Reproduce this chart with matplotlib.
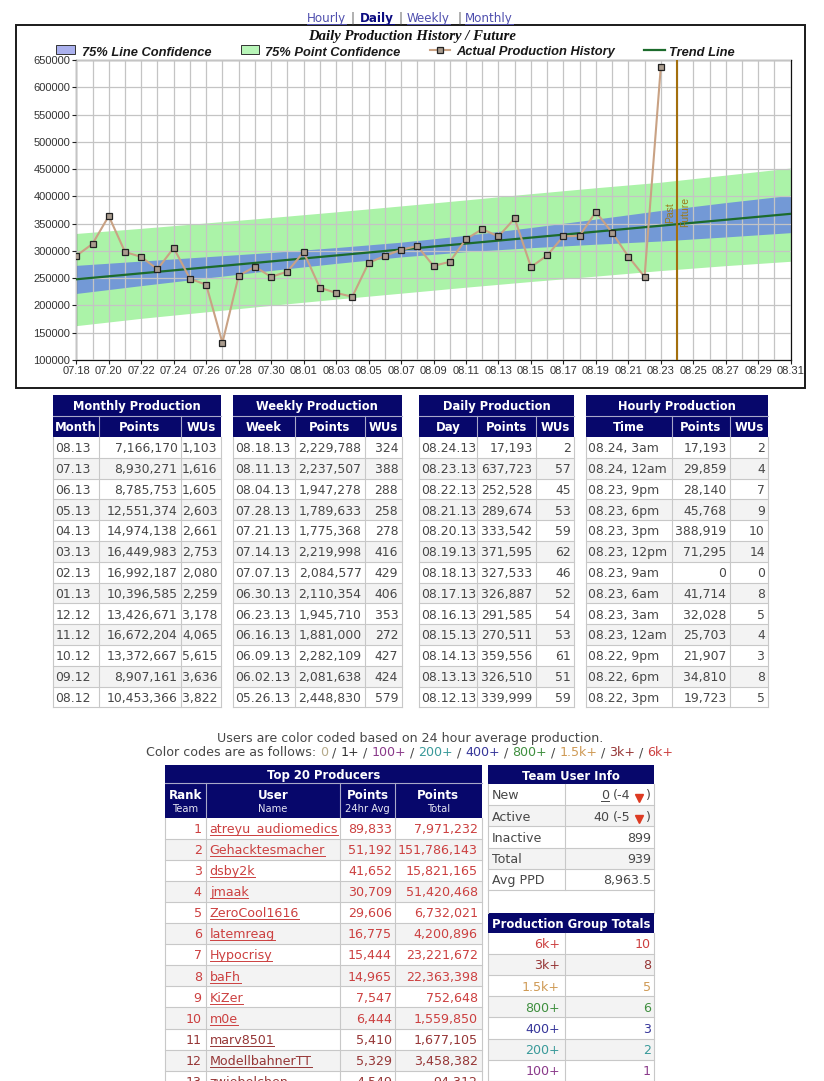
import matplotlib
matplotlib.use('Agg')
import matplotlib.pyplot as plt
import matplotlib.dates as mdates
from matplotlib.patches import Rectangle
from matplotlib.lines import Line2D
from matplotlib.transforms import offset_copy
import pandas as pd

# ---------------- chart data ----------------
prod_start = '2013-07-18'
production = [291000, 313000, 364000, 298000, 289000, 266500, 305500, 249000,
              238000, 131500, 254500, 271000, 252500, 262000,
              298000, 232500, 223000, 216000, 278000, 291000, 302000, 309000,
              272500, 280000, 321500,
              339999, 326510, 359556, 270511, 291585, 326887, 327533, 371595,
              333542, 289674, 252528, 637723]

trend_dates = ['2013-07-18', '2013-08-31']
trend_values = [248000, 368000]

band_dates = ['2013-07-18', '2013-07-22', '2013-07-26', '2013-07-30', '2013-08-03', '2013-08-07',
              '2013-08-11', '2013-08-15', '2013-08-19', '2013-08-23', '2013-08-27', '2013-08-31']
line_conf_hi = [273500, 281400, 289300, 297200, 306100, 316000, 328500, 342900, 358300, 374200, 388600, 402000]
line_conf_lo = [222000, 236400, 250300, 264200, 277100, 289000, 298500, 305900, 312300, 318200, 325600, 333500]
point_conf_hi = [332000, 341400, 351300, 361200, 371600, 382500, 393500, 404900, 415800, 426000, 439000, 452000]
point_conf_lo = [163000, 176400, 188300, 200200, 211600, 222500, 233500, 243900, 253800, 264000, 273000, 281000]

split_date = '2013-08-24'
x_range = ['2013-07-18', '2013-08-31']
y_ticks = [100000, 150000, 200000, 250000, 300000, 350000, 400000, 450000, 500000, 550000, 600000, 650000]

# ---------------- production tables ----------------
monthly_month = ['08.13', '07.13', '06.13', '05.13', '04.13', '03.13', '02.13', '01.13', '12.12', '11.12', '10.12', '09.12', '08.12']
monthly_points = ['7,166,170', '8,930,271', '8,785,753', '12,551,374', '14,974,138', '16,449,983', '16,992,187',
                  '10,396,585', '13,426,671', '16,672,204', '13,372,667', '8,907,161', '10,453,366']
monthly_wus = ['1,103', '1,616', '1,605', '2,603', '2,661', '2,753', '2,080', '2,259', '3,178', '4,065', '5,615', '3,636', '3,822']

weekly_week = ['08.18.13', '08.11.13', '08.04.13', '07.28.13', '07.21.13', '07.14.13', '07.07.13', '06.30.13',
               '06.23.13', '06.16.13', '06.09.13', '06.02.13', '05.26.13']
weekly_points = ['2,229,788', '2,237,507', '1,947,278', '1,789,633', '1,775,368', '2,219,998', '2,084,577',
                 '2,110,354', '1,945,710', '1,881,000', '2,282,109', '2,081,638', '2,448,830']
weekly_wus = ['324', '388', '288', '258', '278', '416', '429', '406', '353', '272', '427', '424', '579']

daily_day = ['08.24.13', '08.23.13', '08.22.13', '08.21.13', '08.20.13', '08.19.13', '08.18.13', '08.17.13',
             '08.16.13', '08.15.13', '08.14.13', '08.13.13', '08.12.13']
daily_points = ['17,193', '637,723', '252,528', '289,674', '333,542', '371,595', '327,533', '326,887',
                '291,585', '270,511', '359,556', '326,510', '339,999']
daily_wus = ['2', '57', '45', '53', '59', '62', '46', '52', '54', '53', '61', '51', '59']

hourly_time = ['08.24, 3am', '08.24, 12am', '08.23, 9pm', '08.23, 6pm', '08.23, 3pm', '08.23, 12pm', '08.23, 9am',
               '08.23, 6am', '08.23, 3am', '08.23, 12am', '08.22, 9pm', '08.22, 6pm', '08.22, 3pm']
hourly_points = ['17,193', '29,859', '28,140', '45,768', '388,919', '71,295', '0', '41,714', '32,028',
                 '25,703', '21,907', '34,810', '19,723']
hourly_wus = ['2', '4', '7', '9', '10', '14', '0', '8', '5', '4', '3', '8', '5']

# ---------------- producers ----------------
top_rank = [1, 2, 3, 4, 5, 6, 7, 8, 9, 10, 11, 12, 13]
top_user = ['atreyu_audiomedics', 'Gehacktesmacher', 'dsby2k', 'jmaak', 'ZeroCool1616', 'latemreag', 'Hypocrisy',
            'baFh', 'KiZer', 'm0e', 'marv8501', 'ModellbahnerTT', 'zwiebelchen']
top_avg = [89833, 51192, 41652, 30709, 29606, 16775, 15444, 14965, 7547, 6444, 5410, 5329, 4549]
top_total = [7971232, 151786143, 15821165, 51420468, 6732021, 4200896, 23221672, 22363398, 752648,
             1559850, 1677105, 3458382, 94312]

team_labels = ['New', 'Active', 'Inactive', 'Total', 'Avg PPD']
team_values = ['0', '40', '899', '939', '8,963.5']
team_change = ['(-4', '(-5', None, None, None]

group_labels = ['6k+', '3k+', '1.5k+', '800+', '400+', '200+', '100+']
group_counts = [10, 8, 5, 6, 3, 2, 1]

code_labels = ['0', '1+', '100+', '200+', '400+', '800+', '1.5k+', '3k+', '6k+']
code_colors = ['#b5aa8a', '#333333', '#8a3a8a', '#3a9a9a', '#36369a', '#3f8f3f', '#cf9a55', '#963636', '#cc4040']
group_color = dict(zip(code_labels, code_colors))

# ---------------- styling ----------------
W, H = 824, 1081
NAVY = '#07076b'
GRID = '#c8c8c8'
ALT = '#f3f3f3'
BODY = '#474747'
HEAD_SEP = '#a9a9c9'
TFONT = 'DejaVu Sans'
CFONT = 'Liberation Sans'
BODY_FS = 8.9
NOTE_FS = 9.1

fig = plt.figure(figsize=(W / 100, H / 100), dpi=100)
page = fig.add_axes([0, 0, 1, 1], zorder=0)
page.set_xlim(0, W)
page.set_ylim(H, 0)
page.set_autoscale_on(False)
page.axis('off')
renderer = fig.canvas.get_renderer()


def width_of(s, **kw):
    t = page.text(0, 0, s, **kw)
    w = t.get_window_extent(renderer).width
    t.remove()
    return w


def hline(x0, x1, y, color, lw=0.8):
    page.add_line(Line2D([x0, x1], [y, y], color=color, lw=lw))


def vline(x, y0, y1, color, lw=0.8):
    page.add_line(Line2D([x, x], [y0, y1], color=color, lw=lw))


def put(x, y, s, ha='left', underline=False, **kw):
    page.text(x, y, s, ha=ha, va='baseline', **kw)
    if underline:
        w = width_of(s, **kw)
        x0 = {'left': x, 'right': x - w, 'center': x - w / 2}[ha]
        hline(x0, x0 + w, y + 2, kw.get('color', 'k'), lw=0.7)


def draw_table(edges, top, title, heads, cols, aligns, row_h=20.8, title_h=21, head_h=21):
    x0, x1 = edges[0], edges[-1]
    page.add_patch(Rectangle((x0, top), x1 - x0, title_h + head_h, fc=NAVY, ec='none'))
    put((x0 + x1) / 2, top + title_h / 2 + 4.4, title, ha='center', color='white',
        fontsize=8.3, fontweight='bold', family=TFONT)
    hline(x0, x1, top + title_h, HEAD_SEP)
    for e in edges[1:-1]:
        vline(e, top + title_h, top + title_h + head_h, HEAD_SEP)
    for i, h in enumerate(heads):
        put((edges[i] + edges[i + 1]) / 2, top + title_h + head_h / 2 + 4.6, h, ha='center',
            color='white', fontsize=8.4, fontweight='bold', family=TFONT)
    body = top + title_h + head_h
    n = len(cols[0])
    for r in range(n):
        y = body + r * row_h
        if r % 2:
            page.add_patch(Rectangle((x0, y), x1 - x0, row_h, fc=ALT, ec='none'))
        for c, col in enumerate(cols):
            x = edges[c] + 2.5 if aligns[c] == 'left' else edges[c + 1] - 3.5
            put(x, y + row_h / 2 + 4.8, col[r], ha=aligns[c], color=BODY, fontsize=BODY_FS, family=TFONT)
        hline(x0, x1, y + row_h, GRID)
    for e in edges:
        vline(e, body, body + n * row_h, GRID)


# ---------------- navigation + chart frame ----------------
nav = [('Hourly', 307, '#4f4fae', 'normal'), ('|', 351, '#666666', 'normal'),
       ('Daily', 360, '#0b0b80', 'bold'), ('|', 399, '#666666', 'normal'),
       ('Weekly', 407, '#4f4fae', 'normal'), ('|', 458, '#666666', 'normal'),
       ('Monthly', 465, '#4f4fae', 'normal')]
for s, x, c, wgt in nav:
    put(x, 22, s, color=c, fontsize=8.6, fontweight=wgt, family=TFONT, underline=(s != '|'))

page.add_patch(Rectangle((16, 25), 789, 363, fill=False, ec='#1a1a1a', lw=1.4))
put(412, 40, 'Daily Production History / Future', ha='center', fontsize=10.6,
    fontweight='bold', style='italic', family='Liberation Serif', color='#111111')

leg_kw = dict(fontsize=9.3, fontweight='bold', style='italic', family=CFONT, color='#1a1a1a')
page.add_patch(Rectangle((56, 45), 19, 8.5, fc='#abb1ee', ec='#333333', lw=0.7))
put(82, 55.5, '75% Line Confidence', **leg_kw)
page.add_patch(Rectangle((241, 45), 18, 8.5, fc='#b8f5b8', ec='#333333', lw=0.7))
put(265, 55.5, '75% Point Confidence', **leg_kw)
page.add_line(Line2D([430, 450], [50, 50], color='#c9a284', lw=1.5))
page.add_line(Line2D([440], [50], marker='s', ms=4.5, mfc='#aa9c8e', mec='#222222', mew=0.9, lw=0))
put(456, 55.5, 'Actual Production History', **leg_kw)
page.add_line(Line2D([644, 665], [50, 50], color='#1c6b2c', lw=1.6))
put(669, 55.5, 'Trend Line', **leg_kw)

# ---------------- chart ----------------
ax = fig.add_axes([76.3 / W, 1 - 360 / H, 714.4 / W, 300 / H], zorder=2)
prod_dates = pd.date_range(prod_start, periods=len(production), freq='D')
bd = pd.to_datetime(band_dates)
ax.fill_between(bd, point_conf_lo, point_conf_hi, color='#abf3a8', lw=0, zorder=1)
ax.fill_between(bd, line_conf_lo, line_conf_hi, color='#7399d6', lw=0, zorder=1.1)
ax.plot(pd.to_datetime(trend_dates), trend_values, color='#1c6b2c', lw=1.6, zorder=3)
ax.axvline(pd.Timestamp(split_date), color='#a36f0d', lw=1.5, zorder=3.5)
ax.plot(prod_dates, production, color='#c9a284', lw=1.5, marker='s', ms=4.5,
        mfc='#aa9c8e', mec='#222222', mew=0.9, zorder=4)

past_tr = offset_copy(ax.transData, fig=fig, x=-2, y=0, units='dots')
fut_tr = offset_copy(ax.transData, fig=fig, x=3, y=0, units='dots')
ax.text(pd.Timestamp(split_date), 371000, 'Past', transform=past_tr, rotation=90, ha='right', va='center',
        fontsize=7.5, color='#9c7a1a', family=CFONT, zorder=5)
ax.text(pd.Timestamp(split_date), 371000, 'Future', transform=fut_tr, rotation=90, ha='left', va='center',
        fontsize=7.5, color='#9c7a1a', family=CFONT, zorder=5)

ax.set_xlim(pd.Timestamp(x_range[0]), pd.Timestamp(x_range[1]))
ax.set_ylim(y_ticks[0], y_ticks[-1])
ax.set_xticks(pd.date_range(x_range[0], x_range[1], freq='2D'))
ax.set_xticks(pd.date_range(x_range[0], x_range[1], freq='D'), minor=True)
ax.xaxis.set_major_formatter(mdates.DateFormatter('%m.%d'))
ax.set_yticks(y_ticks)
ax.set_yticklabels([str(v) for v in y_ticks])
ax.set_axisbelow(False)
ax.grid(True, which='both', axis='x', color='#c4c4c4', lw=0.9)
ax.grid(True, which='major', axis='y', color='#c4c4c4', lw=0.9)
ax.tick_params(which='minor', length=0)
ax.tick_params(which='major', length=3, width=0.8, color='#222222', labelsize=8, labelcolor='#333333', pad=1.5)
for lab in ax.get_xticklabels() + ax.get_yticklabels():
    lab.set_family(CFONT)
for sp in ax.spines.values():
    sp.set_color('#111111')
    sp.set_linewidth(0.9)

# ---------------- production tables ----------------
draw_table([52.7, 99, 181, 221], 395, 'Monthly Production', ['Month', 'Points', 'WUs'],
           [monthly_month, monthly_points, monthly_wus], ['left', 'right', 'right'])
draw_table([232.7, 295, 365, 401.7], 395, 'Weekly Production', ['Week', 'Points', 'WUs'],
           [weekly_week, weekly_points, weekly_wus], ['left', 'right', 'right'])
draw_table([419, 477, 536, 574.3], 395, 'Daily Production', ['Day', 'Points', 'WUs'],
           [daily_day, daily_points, daily_wus], ['left', 'right', 'right'])
draw_table([585.7, 671.7, 730, 768.3], 395, 'Hourly Production', ['Time', 'Points', 'WUs'],
           [hourly_time, hourly_points, hourly_wus], ['left', 'right', 'right'])

# ---------------- colour code note ----------------
put(410, 742, 'Users are color coded based on 24 hour average production.', ha='center',
    color=BODY, fontsize=NOTE_FS, family=TFONT)
pieces = [('Color codes are as follows:', BODY)]
for i, (lab, col) in enumerate(zip(code_labels, code_colors)):
    if i:
        pieces.append(('/', BODY))
    pieces.append((lab, col))
gap = width_of('a a', fontsize=NOTE_FS, family=TFONT) - width_of('aa', fontsize=NOTE_FS, family=TFONT)
widths = [width_of(s, fontsize=NOTE_FS, family=TFONT) for s, _ in pieces]
x = 410 - (sum(widths) + gap * (len(pieces) - 1)) / 2
for (s, col), w in zip(pieces, widths):
    put(x, 756, s, color=col, fontsize=NOTE_FS, family=TFONT)
    x += w + gap


def user_color(avg):
    for lab, lim in [('6k+', 6000), ('3k+', 3000), ('1.5k+', 1500), ('800+', 800), ('400+', 400),
                     ('200+', 200), ('100+', 100), ('1+', 1)]:
        if avg >= lim:
            return group_color[lab]
    return group_color['0']


# ---------------- top 20 producers ----------------
te = [165, 205.7, 340, 395, 481.7]
t_top, t_title, t_head, t_row = 765, 17.5, 35, 21.1
page.add_patch(Rectangle((te[0], t_top), te[-1] - te[0], t_title + t_head, fc=NAVY, ec='none'))
put((te[0] + te[-1]) / 2, t_top + 13.5, 'Top 20 Producers', ha='center', color='white',
    fontsize=8.4, fontweight='bold', family=TFONT)
hline(te[0], te[-1], t_top + t_title, HEAD_SEP)
for e in te[1:-1]:
    vline(e, t_top + t_title, t_top + t_title + t_head, HEAD_SEP)
for i, (h1, h2) in enumerate([('Rank', 'Team'), ('User', 'Name'), ('Points', '24hr Avg'), ('Points', 'Total')]):
    xc = (te[i] + te[i + 1]) / 2
    put(xc, 799.3, h1, ha='center', color='white', fontsize=8.6, fontweight='bold', family=TFONT)
    put(xc, 812.5, h2, ha='center', color='#e6e6f2', fontsize=7.2, family=TFONT)
body = t_top + t_title + t_head
for r in range(len(top_user)):
    y = body + r * t_row
    if r % 2:
        page.add_patch(Rectangle((te[0], y), te[-1] - te[0], t_row, fc=ALT, ec='none'))
    col = user_color(top_avg[r])
    base = y + t_row / 2 + 4.8
    kw = dict(color=col, fontsize=NOTE_FS, family=TFONT)
    put(te[1] - 4, base, str(top_rank[r]), ha='right', **kw)
    put(te[1] + 4, base, top_user[r], ha='left', underline=True, **kw)
    put(te[3] - 3, base, f'{top_avg[r]:,}', ha='right', **kw)
    put(te[4] - 4, base, f'{top_total[r]:,}', ha='right', **kw)
    hline(te[0], te[-1], y + t_row, GRID)
for e in te:
    vline(e, body, body + len(top_user) * t_row, GRID)

# ---------------- team user info ----------------
ue = [488, 565, 654]
u_top, u_title, u_row = 765, 19, 21.2
page.add_patch(Rectangle((ue[0], u_top), ue[-1] - ue[0], u_title, fc=NAVY, ec='none'))
put((ue[0] + ue[-1]) / 2, u_top + 14.5, 'Team User Info', ha='center', color='white',
    fontsize=8.4, fontweight='bold', family=TFONT)
ubody = u_top + u_title
for r, (lab, val, chg) in enumerate(zip(team_labels, team_values, team_change)):
    y = ubody + r * u_row
    if r % 2:
        page.add_patch(Rectangle((ue[0], y), ue[-1] - ue[0], u_row, fc=ALT, ec='none'))
    base = y + u_row / 2 + 4.8
    kw = dict(color=BODY, fontsize=NOTE_FS, family=TFONT)
    put(ue[0] + 4, base, lab, **kw)
    if chg is None:
        put(ue[2] - 3, base, val, ha='right', **kw)
    else:
        put(ue[2] - 3, base, ')', ha='right', **kw)
        page.add_line(Line2D([639.5], [base - 1.5], marker='v', ms=6, color='#dd3a22', lw=0))
        put(631, base, chg, ha='right', **kw)
        xv = 631 - width_of(chg, **kw) - gap
        put(xv, base, val, ha='right', underline=(lab == 'New'), **kw)
    hline(ue[0], ue[-1], y + u_row, GRID)
u_end = ubody + len(team_labels) * u_row
for e in ue:
    vline(e, ubody, u_end, GRID)

# gap between the two right-hand tables
g_top = 913
vline(ue[0], u_end, g_top, GRID)
vline(ue[-1], u_end, g_top, GRID)

# ---------------- production group totals ----------------
g_title, g_row = 20, 21.1
page.add_patch(Rectangle((ue[0], g_top), ue[-1] - ue[0], g_title, fc=NAVY, ec='none'))
put((ue[0] + ue[-1]) / 2, g_top + 15, 'Production Group Totals', ha='center', color='white',
    fontsize=8.4, fontweight='bold', family=TFONT)
gbody = g_top + g_title
for r, (lab, cnt) in enumerate(zip(group_labels, group_counts)):
    y = gbody + r * g_row
    if r % 2:
        page.add_patch(Rectangle((ue[0], y), ue[-1] - ue[0], g_row, fc=ALT, ec='none'))
    base = y + g_row / 2 + 4.8
    kw = dict(color=group_color[lab], fontsize=NOTE_FS, family=TFONT)
    put(ue[1] - 5, base, lab, ha='right', **kw)
    put(ue[2] - 3, base, str(cnt), ha='right', **kw)
    hline(ue[0], ue[-1], y + g_row, GRID)
for e in ue:
    vline(e, gbody, gbody + len(group_labels) * g_row, GRID)

fig.savefig('out.png', dpi=100)
